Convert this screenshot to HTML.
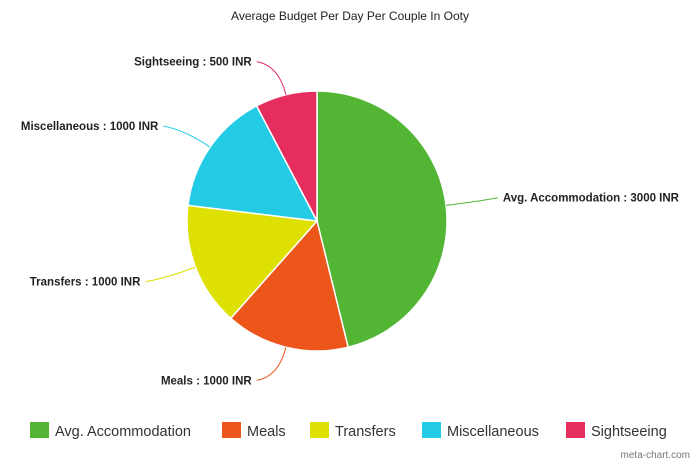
<!DOCTYPE html>
<html><head><meta charset="utf-8"><style>
body{margin:0;background:#fff;font-family:"Liberation Sans",sans-serif}
#wrap{position:relative;width:700px;height:466px;overflow:hidden}
</style></head><body>
<div id="wrap">
<svg id="svg" width="700" height="466">
<text x="350" y="20" text-anchor="middle" font-size="12" fill="#222">Average Budget Per Day Per Couple In Ooty</text>
<g id="slices"></g><g id="labels"></g><g id="legend"></g>
<text x="690" y="458" text-anchor="end" font-size="10" fill="#777">meta-chart.com</text>
</svg>
</div>
<script>
const categories=["Avg. Accommodation","Meals","Transfers","Miscellaneous","Sightseeing"];
const values=[3000,1000,1000,1000,500];
const colors=["#52b534","#ed561b","#dde000","#24cbe5","#e52d5e"];
const NS="http://www.w3.org/2000/svg";
const cx=317,cy=221,r=130;
const total=values.reduce((a,b)=>a+b,0);
function pt(a,rad){return [cx+rad*Math.sin(a),cy-rad*Math.cos(a)];}
const sg=document.getElementById('slices'),lg=document.getElementById('labels'),leg=document.getElementById('legend');
let a0=0;
values.forEach((v,i)=>{
  const a1=a0+v/total*2*Math.PI;
  const p0=pt(a0,r),p1=pt(a1,r);
  const path=document.createElementNS(NS,'path');
  path.setAttribute('d',`M${cx},${cy}L${p0[0]},${p0[1]}A${r},${r} 0 ${a1-a0>Math.PI?1:0} 1 ${p1[0]},${p1[1]}Z`);
  path.setAttribute('fill',colors[i]);path.setAttribute('stroke','#fff');path.setAttribute('stroke-width','1.5');
  
  
  sg.appendChild(path);
  const am=(a0+a1)/2;
  const e=pt(am,r),m=pt(am,r+30);
  const right=Math.sin(am)>=0;
  const ex=m[0]+(right?22:-22), ey=m[1]+(Math.cos(am)<0?4:-4);
  const ln=document.createElementNS(NS,'path');
  ln.setAttribute('d',`M${e[0]},${e[1]}Q${m[0]},${m[1]} ${ex},${ey}`);
  ln.setAttribute('fill','none');ln.setAttribute('stroke',colors[i]);ln.setAttribute('stroke-width','1');
  
  
  lg.appendChild(ln);
  const t=document.createElementNS(NS,'text');
  t.setAttribute('x',ex+(right?5:-5));t.setAttribute('y',ey+4);
  t.setAttribute('text-anchor',right?'start':'end');
  t.setAttribute('font-size','11.5');t.setAttribute('font-weight','bold');t.setAttribute('fill','#222');
  t.textContent=categories[i]+' : '+v+' INR';
  
  
  lg.appendChild(t);
  a0=a1;
});
const legX=[30,222,310,422,566];
categories.forEach((c,i)=>{
  const g=document.createElementNS(NS,'g');
  
  
  const rc=document.createElementNS(NS,'rect');
  rc.setAttribute('x',legX[i]);rc.setAttribute('y',422);rc.setAttribute('width',19);rc.setAttribute('height',16);rc.setAttribute('fill',colors[i]);
  const t=document.createElementNS(NS,'text');
  t.setAttribute('x',legX[i]+25);t.setAttribute('y',436);t.setAttribute('font-size','14.5');t.setAttribute('fill','#333');
  t.textContent=c;
  g.appendChild(rc);g.appendChild(t);leg.appendChild(g);
});
</script>
</body></html>
